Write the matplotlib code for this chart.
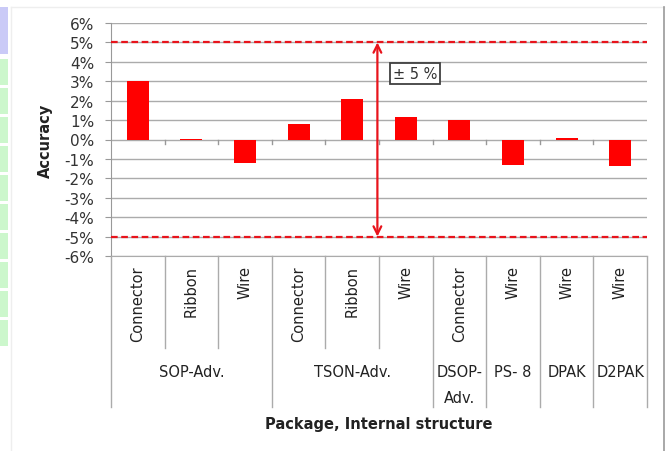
import matplotlib.pyplot as plt
from matplotlib.patches import Rectangle
from matplotlib.lines import Line2D
import numpy as np

# 精度データ（%）
structures = ["Connector", "Ribbon", "Wire", "Connector", "Ribbon", "Wire",
              "Connector", "Wire", "Wire", "Wire"]
packages = ["SOP-Adv.", "TSON-Adv.", "DSOP-\nAdv.", "PS- 8", "DPAK", "D2PAK"]
package_sizes = [3, 3, 1, 1, 1, 1]
accuracy = [3.0, 0.05, -1.2, 0.8, 2.1, 1.15, 1.0, -1.3, 0.1, -1.35]
limit = 5
yticks = list(range(-6, 7))

W, H = 668, 452
fig = plt.figure(figsize=(W / 100, H / 100), dpi=100)
plt.rcParams['font.family'] = ['DejaVu Sans']


def fx(px):
    return px / W


def fy(py):
    return 1 - py / H


# 左側のパネル（一部だけ見えている）
fig.patches.append(Rectangle((0, fy(55)), fx(8), fy(8) - fy(55), transform=fig.transFigure,
                             facecolor="#cacaf7", edgecolor="none"))
for k in range(10):
    top = 60 + 29 * k
    fig.patches.append(Rectangle((0, fy(top + 26)), fx(8), fy(top) - fy(top + 26),
                                 transform=fig.transFigure, facecolor="#ccf7cc", edgecolor="none"))
# グラフ枠
fig.lines.append(Line2D([fx(11), fx(11)], [fy(8), 0], transform=fig.transFigure, color="#eeeeee", lw=1))
fig.lines.append(Line2D([fx(11), fx(664)], [fy(8), fy(8)], transform=fig.transFigure, color="#eeeeee", lw=1))
fig.lines.append(Line2D([fx(664), fx(664)], [fy(8), 0], transform=fig.transFigure, color="#9a9a9a", lw=1.2))

ax_l, ax_r, ax_t, ax_b = 111, 647, 24, 257
ax = fig.add_axes([fx(ax_l), fy(ax_b), fx(ax_r - ax_l), fy(ax_t) - fy(ax_b)])

n = len(accuracy)
x = np.arange(n)
ax.bar(x, accuracy, width=0.41, color="#ff0000", zorder=3)
ax.set_xlim(-0.5, n - 0.5)
ax.set_ylim(-6, 6)
ax.set_yticks(yticks)
ax.set_yticklabels([f"{v}%" for v in yticks], fontsize=11, color="#333333")
ax.set_xticks([])
ax.tick_params(axis='y', length=4, color="#999999", pad=8)
ax.grid(axis='y', color="#ababab", lw=1, zorder=0)
for s in ["top", "right"]:
    ax.spines[s].set_visible(False)
ax.spines["left"].set_color("#999999")
ax.spines["bottom"].set_color("#ababab")

# 0% 線上の目盛り
for b in np.arange(0.5, n - 0.5, 1):
    ax.plot([b, b], [0, -0.25], color="#999999", lw=1, zorder=2)

# ±5% の許容範囲
for v in (limit, -limit):
    ax.axhline(v, color="#e8141c", lw=1.6, ls=(0, (3, 1.6)), zorder=4)
ax.annotate("", xy=(4.47, limit), xytext=(4.47, -limit),
            arrowprops=dict(arrowstyle="<->", color="#e8141c", lw=1.6,
                            mutation_scale=14, shrinkA=0, shrinkB=0), zorder=5)
ax.text(5.17, 3.4, "± 5 %", fontsize=10.5, color="#333333", ha="center", va="center", zorder=6,
        bbox=dict(boxstyle="square,pad=0.22", facecolor="white", edgecolor="#404040", lw=1.3))

# 項目軸（下部の区切り線とラベル）
tr = ax.get_xaxis_transform()
ax_h = ax_b - ax_t


def ay(py):
    return (ax_b - py) / ax_h


bounds = np.cumsum([0] + package_sizes) - 0.5
for b in np.arange(-0.5, n, 1):
    bottom = 408 if np.any(np.isclose(bounds, b)) else 349
    ax.add_line(Line2D([b, b], [ay(ax_b), ay(bottom)], transform=tr, color="#ababab",
                       lw=1, clip_on=False))

for i, s in enumerate(structures):
    ax.text(i, ay(266), s, transform=tr, rotation=90, ha="center", va="top",
            fontsize=10.5, color="#222222")

for k, p in enumerate(packages):
    c = (bounds[k] + bounds[k + 1]) / 2
    ax.text(c, ay(365), p, transform=tr, ha="center", va="top", fontsize=10.5,
            color="#222222", linespacing=1.9)

fig.text(fx(379), fy(425), "Package, Internal structure", ha="center", va="center",
         fontsize=10.5, fontweight="bold", color="#222222")
fig.text(fx(45), fy(141), "Accuracy", ha="center", va="center", rotation=90,
         fontsize=10.5, fontweight="bold", color="#222222")

fig.savefig("out.png", dpi=100)
